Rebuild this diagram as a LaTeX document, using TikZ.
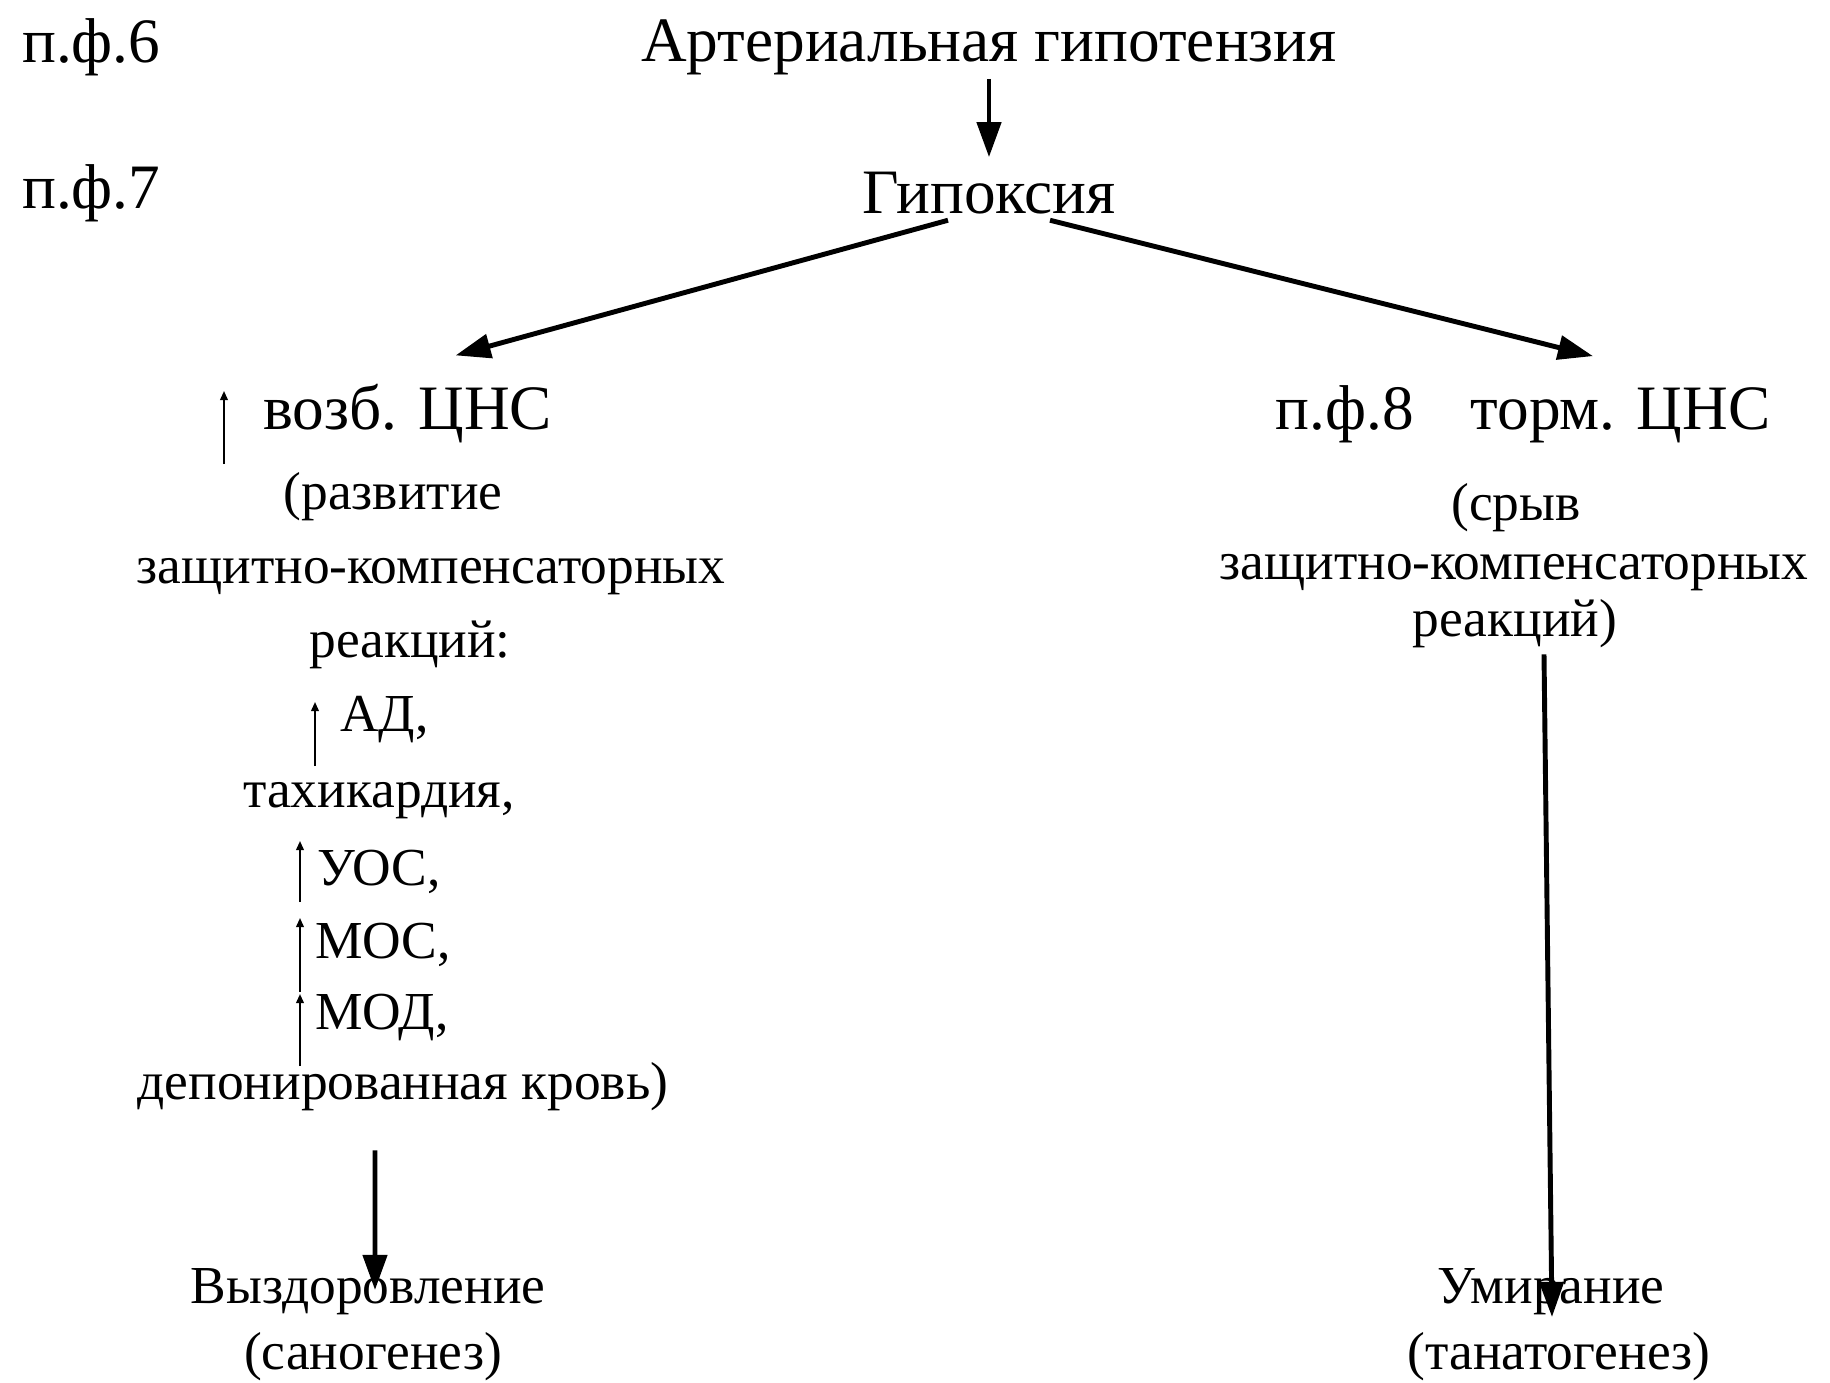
\documentclass[tikz,border=0pt]{standalone}
\usepackage{fontspec}
\setmainfont{Liberation Serif}
\usetikzlibrary{arrows.meta,calc}

\begin{document}
\begin{tikzpicture}[auto,every text node part/.style={align=center},
  every node/.style={font=\fontsize{18}{22}\selectfont,inner sep=1pt},
  sm/.style={font=\fontsize{15.2}{18}\selectfont},
  big/.style={-{Triangle[length=10pt,width=6.8pt]},line width=1.4pt},
  up/.style={-{Triangle[length=2.6pt,width=2.2pt]},line width=0.5pt}]
  \useasboundingbox (0,0) rectangle (18.30,-13.82);
  % Stages
  \node[anchor=west] (PF6) at (0.18,-0.47) {п.ф.6};
  \node (AH) at (9.89,-0.47) {Артериальная гипотензия};
  \node[anchor=west] (PF7) at (0.18,-1.93) {п.ф.7};
  \node (HX) at (9.89,-1.93) {Гипоксия};

  % Left branch
  \node[anchor=west] (EC) at (2.59,-4.14) {возб. ЦНС};
  \node[sm] (EC1) at (3.93,-4.97) {(развитие};
  \node[sm] (EC2) at (4.31,-5.77) {защитно-компенсаторных};
  \node[sm] (EC3) at (4.10,-6.45) {реакций:};
  \node[sm,anchor=west] (AD) at (3.36,-7.20) {АД,};
  \node[sm] (TK) at (3.79,-8.01) {тахикардия,};
  \node[sm,anchor=west] (UOS) at (3.13,-8.72) {УОС,};
  \node[sm,anchor=west] (MOS) at (3.11,-9.45) {МОС,};
  \node[sm,anchor=west] (MOD) at (3.11,-10.17) {МОД,};
  \node[sm] (DK) at (4.03,-10.87) {депонированная кровь)};
  \node[sm] (RC) at (3.68,-12.92) {Выздоровление};
  \node[sm] (RC1) at (3.73,-13.57) {(саногенез)};

  % Right branch
  \node (IC) at (15.23,-4.14) {п.ф.8\hspace{0.9em}торм. ЦНС};
  \node[sm] (IC1) at (15.16,-5.08) {(срыв};
  \node[sm] (IC2) at (15.14,-5.73) {защитно-компенсаторных};
  \node[sm] (IC3) at (15.15,-6.24) {реакций)};
  \node[sm] (DT) at (15.51,-12.92) {Умирание};
  \node[sm] (DT1) at (15.59,-13.57) {(танатогенез)};

  \draw [big] (AH.south) to ([yshift=3pt]HX.north);
  \draw [big] ($(HX.south)+(-0.41,-0.02)$) to ($(EC.north)+(0.48,0.25)$);
  \draw [big] ($(HX.south)+(0.61,-0.02)$) to ($(IC.north)+(0.70,0.25)$);
  \draw [big] ($(DK.south)+(-0.28,-0.35)$) to ($(RC.center)+(0.07,0.02)$);
  \draw [big] ($(IC3.south)+(0.29,-0.02)$) to ($(DT.center)+(0.01,-0.25)$);

  \draw [up] ($(EC.west)+(-0.35,-0.50)$) to ($(EC.west)+(-0.35,0.23)$);
  \draw [up] ($(AD.west)+(-0.21,-0.46)$) to ($(AD.west)+(-0.21,0.18)$);
  \draw [up] ($(UOS.west)+(-0.13,-0.30)$) to ($(UOS.west)+(-0.13,0.31)$);
  \draw [up] ($(MOS.west)+(-0.11,-0.47)$) to ($(MOS.west)+(-0.11,0.27)$);
  \draw [up] ($(MOD.west)+(-0.11,-0.49)$) to ($(MOD.west)+(-0.11,0.23)$);
\end{tikzpicture}
\end{document}
